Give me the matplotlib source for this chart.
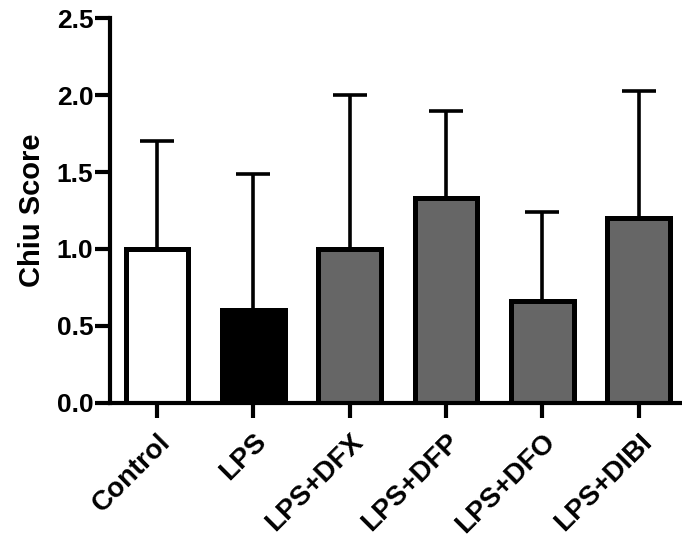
import matplotlib.pyplot as plt
import matplotlib.transforms as mtransforms
import numpy as np

plt.rcParams['font.family'] = ['Liberation Sans', 'DejaVu Sans']
plt.rcParams['font.weight'] = 'bold'

groups = ["Control", "LPS", "LPS+DFX", "LPS+DFP", "LPS+DFO", "LPS+DIBI"]
means = [1.00, 0.60, 1.00, 1.33, 0.66, 1.20]
upper = [1.70, 1.49, 2.00, 1.90, 1.24, 2.03]
colors = ["white", "black", "#666666", "#666666", "#666666", "#666666"]

err = [u - m for u, m in zip(upper, means)]
x = np.arange(len(groups))

fig = plt.figure(figsize=(6.82, 5.38), dpi=100)
ax = fig.add_axes([110 / 682, (538 - 402.5) / 538, 570 / 682, 384 / 538])

ax.errorbar(x, means, yerr=[[0] * len(x), err], fmt="none", ecolor="black",
            elinewidth=2.6, capsize=12, capthick=2.6, zorder=1)
ax.bar(x, means, width=0.65, color=colors, edgecolor="black", linewidth=3.6, zorder=2)

ax.set_xlim(-0.49, 5.43)
ax.set_ylim(0, 2.5)
ax.set_yticks([0.0, 0.5, 1.0, 1.5, 2.0, 2.5])
ax.set_yticklabels(["0.0", "0.5", "1.0", "1.5", "2.0", "2.5"])
ax.set_xticks(x)
ax.set_xticklabels(groups, rotation=45, ha="right", va="top", rotation_mode="anchor")

# nudge the slanted labels a bit left so they end under the ticks
shift = mtransforms.ScaledTranslation(-5 / 100, 0, fig.dpi_scale_trans)
for lbl in ax.get_xticklabels():
    lbl.set_transform(lbl.get_transform() + shift)

for side in ["top", "right"]:
    ax.spines[side].set_visible(False)
for side in ["left", "bottom"]:
    ax.spines[side].set_linewidth(3.0)
ax.tick_params(axis="both", width=3.0, length=11)
ax.tick_params(axis="y", labelsize=19, pad=1)
ax.tick_params(axis="x", labelsize=20, pad=8)

ax.set_ylabel("Chiu Score", fontsize=21, fontweight="bold", labelpad=8)

fig.savefig("out.png", dpi=100)
